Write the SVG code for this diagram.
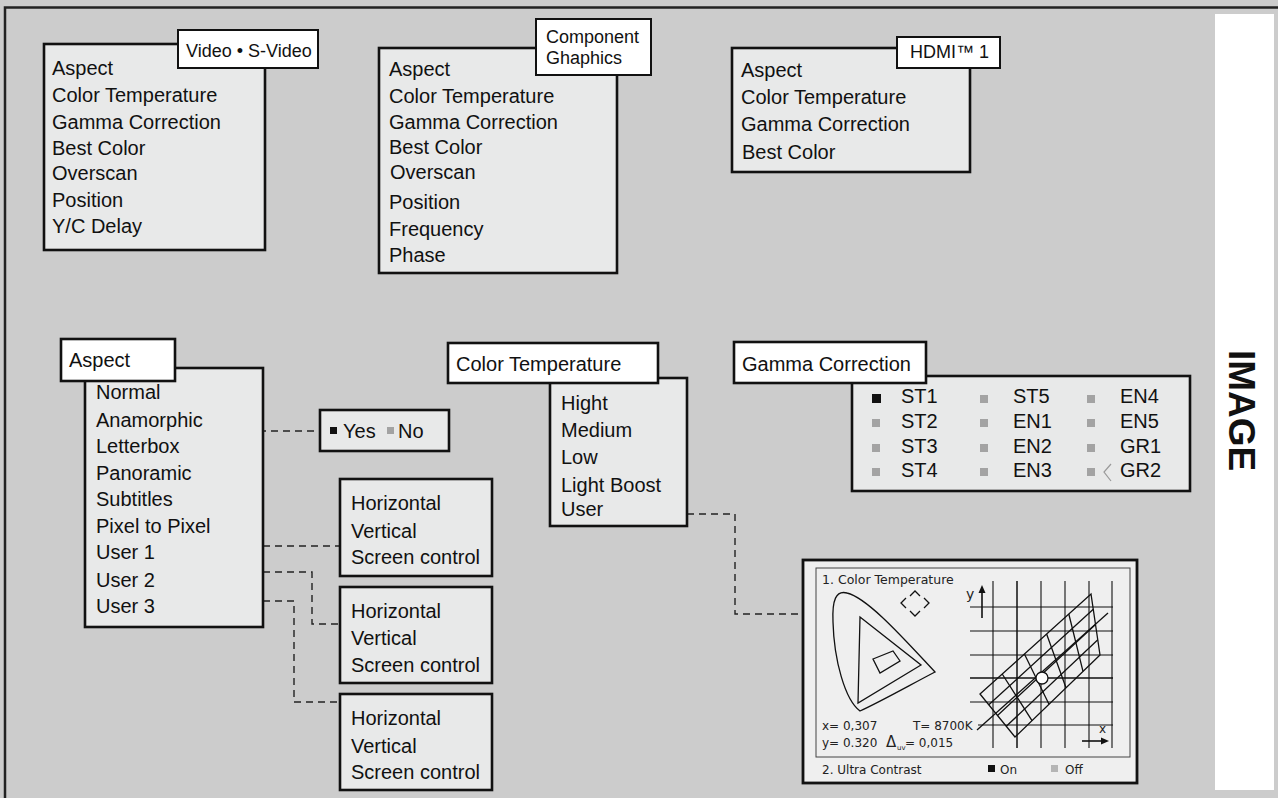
<svg xmlns="http://www.w3.org/2000/svg" width="1278" height="798" viewBox="0 0 1278 798">
<style>
text{font-family:"Liberation Sans",Arial,Helvetica,sans-serif;fill:#111}
.m{font-size:20px}
.t{font-size:18px}
.box{fill:#e8e9e9;stroke:#111;stroke-width:2.6}
.ttl{fill:#fff;stroke:#111;stroke-width:2}
.dash{fill:none;stroke:#222;stroke-width:1.4;stroke-dasharray:7,5}
.gsq{fill:#a3a3a3}
.ch{font-family:"DejaVu Sans","Liberation Sans",sans-serif;font-size:12px;fill:#222}
.cl{fill:none;stroke:#111;stroke-width:1.3}
</style>
<rect x="0" y="0" width="1278" height="798" fill="#cccccc"/>
<path d="M5,798 V7.5 H1278" fill="none" stroke="#222" stroke-width="2.5"/>
<rect x="1215" y="14" width="59" height="776" fill="#ffffff"/>
<text x="1229" y="350" transform="rotate(90 1229 350)" style="font-size:37px;font-weight:bold">IMAGE</text>

<g id="connectors">
<path class="dash" d="M215,386 H247 V507 H215"/>
<path class="dash" d="M247,431 H320"/>
<path class="dash" d="M263,546 H340"/>
<path class="dash" d="M263,572 H312 V624 H340"/>
<path class="dash" d="M263,601 H294 V702 H340"/>
<path class="dash" d="M687,514 H735 V614 H803"/>
</g>

<g id="video">
<rect class="box" x="44" y="44" width="221" height="206"/>
<text class="m" x="52" y="75">Aspect</text>
<text class="m" x="52" y="102">Color Temperature</text>
<text class="m" x="52" y="129">Gamma Correction</text>
<text class="m" x="52" y="155">Best Color</text>
<text class="m" x="52" y="180">Overscan</text>
<text class="m" x="52" y="207">Position</text>
<text class="m" x="52" y="233">Y/C  Delay</text>
<rect class="ttl" x="178" y="30" width="140" height="38"/>
<text class="t" x="186" y="57">Video • S-Video</text>
</g>

<g id="component">
<rect class="box" x="379" y="48" width="238" height="225"/>
<text class="m" x="389" y="76">Aspect</text>
<text class="m" x="389" y="103">Color Temperature</text>
<text class="m" x="389" y="129">Gamma Correction</text>
<text class="m" x="389" y="154">Best Color</text>
<text class="m" x="390" y="179">Overscan</text>
<text class="m" x="389" y="209">Position</text>
<text class="m" x="389" y="236">Frequency</text>
<text class="m" x="389" y="262">Phase</text>
<rect class="ttl" x="536" y="19" width="115" height="56"/>
<text class="t" x="546" y="43">Component</text>
<text class="t" x="546" y="64">Ghaphics</text>
</g>

<g id="hdmi">
<rect class="box" x="732" y="48" width="238" height="124"/>
<text class="m" x="741" y="77">Aspect</text>
<text class="m" x="741" y="104">Color Temperature</text>
<text class="m" x="741" y="131">Gamma Correction</text>
<text class="m" x="742" y="159">Best Color</text>
<rect class="ttl" x="897" y="37" width="103" height="31"/>
<text class="t" x="910" y="58">HDMI™ 1</text>
</g>

<g id="aspect">
<rect class="box" x="85" y="368" width="178" height="259"/>
<text class="m" x="96" y="399">Normal</text>
<text class="m" x="96" y="427">Anamorphic</text>
<text class="m" x="96" y="453">Letterbox</text>
<text class="m" x="96" y="480">Panoramic</text>
<text class="m" x="96" y="506">Subtitles</text>
<text class="m" x="96" y="533">Pixel to Pixel</text>
<text class="m" x="96" y="559">User 1</text>
<text class="m" x="96" y="587">User 2</text>
<text class="m" x="96" y="613">User 3</text>
<rect class="ttl" x="61" y="339" width="114" height="42" style="stroke-width:2.6"/>
<text class="m" x="69" y="367">Aspect</text>
</g>

<g id="yesno">
<rect class="box" x="320" y="410" width="129" height="41"/>
<rect x="330" y="427" width="7" height="7" fill="#111"/>
<text class="m" x="343" y="438">Yes</text>
<rect class="gsq" x="387" y="427" width="7" height="7"/>
<text class="m" x="398" y="438">No</text>
</g>

<g id="user1">
<rect class="box" x="340" y="479" width="152" height="97"/>
<text class="m" x="351" y="510">Horizontal</text>
<text class="m" x="351" y="538">Vertical</text>
<text class="m" x="351" y="564">Screen control</text>
</g>
<g id="user2">
<rect class="box" x="340" y="587" width="152" height="96"/>
<text class="m" x="351" y="618">Horizontal</text>
<text class="m" x="351" y="645">Vertical</text>
<text class="m" x="351" y="672">Screen control</text>
</g>
<g id="user3">
<rect class="box" x="340" y="694" width="152" height="96"/>
<text class="m" x="351" y="725">Horizontal</text>
<text class="m" x="351" y="753">Vertical</text>
<text class="m" x="351" y="779">Screen control</text>
</g>

<g id="colortemp">
<rect class="box" x="550" y="378" width="137" height="148"/>
<text class="m" x="561" y="410">Hight</text>
<text class="m" x="561" y="437">Medium</text>
<text class="m" x="561" y="464">Low</text>
<text class="m" x="561" y="492">Light Boost</text>
<text class="m" x="561" y="516">User</text>
<rect class="ttl" x="448" y="343" width="210" height="40" style="stroke-width:2.6"/>
<text class="m" x="456" y="371">Color Temperature</text>
</g>

<g id="gamma">
<rect class="box" x="852" y="376" width="338" height="115"/>
<rect x="872" y="394" width="9" height="9" fill="#111"/>
<rect class="gsq" x="872" y="419" width="8" height="8"/>
<rect class="gsq" x="872" y="444" width="8" height="8"/>
<rect class="gsq" x="872" y="468" width="8" height="8"/>
<rect class="gsq" x="980" y="395" width="8" height="8"/>
<rect class="gsq" x="980" y="419" width="8" height="8"/>
<rect class="gsq" x="980" y="444" width="8" height="8"/>
<rect class="gsq" x="980" y="468" width="8" height="8"/>
<rect class="gsq" x="1087" y="395" width="8" height="8"/>
<rect class="gsq" x="1087" y="419" width="8" height="8"/>
<rect class="gsq" x="1087" y="444" width="8" height="8"/>
<rect class="gsq" x="1087" y="468" width="8" height="8"/>
<polyline points="1111,464 1104,472 1111,481" fill="none" stroke="#999" stroke-width="1.2"/>
<text class="m" x="901" y="403">ST1</text>
<text class="m" x="901" y="428">ST2</text>
<text class="m" x="901" y="453">ST3</text>
<text class="m" x="901" y="477">ST4</text>
<text class="m" x="1013" y="403">ST5</text>
<text class="m" x="1013" y="428">EN1</text>
<text class="m" x="1013" y="453">EN2</text>
<text class="m" x="1013" y="477">EN3</text>
<text class="m" x="1120" y="403">EN4</text>
<text class="m" x="1120" y="428">EN5</text>
<text class="m" x="1120" y="453">GR1</text>
<text class="m" x="1120" y="477">GR2</text>
<rect class="ttl" x="734" y="342" width="192" height="41" style="stroke-width:2.6"/>
<text class="m" x="742" y="371">Gamma Correction</text>
</g>

<g id="chart">
<rect x="803" y="560" width="334" height="223" fill="#efefef" stroke="#111" stroke-width="2.8"/>
<rect x="816" y="568" width="314" height="189" fill="none" stroke="#444" stroke-width="1"/>
<text class="ch" x="822" y="584" style="font-size:12.5px">1. Color Temperature</text>
<path class="cl" d="M935,672 C905,640 868,598 847,593 C836,590 832,600 833,622 C834,660 845,700 860,711 C880,702 910,685 935,672 Z"/>
<path class="cl" d="M860,617 L921,665 L858,703 Z"/>
<path class="cl" d="M873,659 L893,651 L900,661 L880,673 Z" stroke-width="1"/>
<path class="cl" d="M910,596 L915,591 L920,596 M910,611 L915,616 L920,611 M906,598 L901,603 L906,608 M924,598 L929,603 L924,608" stroke-width="1.1"/>
<text class="ch" x="822" y="730">x= 0,307</text>
<text class="ch" x="913" y="730">T= 8700K</text>
<text class="ch" x="822" y="747">y= 0.320</text>
<text class="ch" x="886" y="747" style="font-size:15px">Δ</text>
<text class="ch" x="897" y="750" style="font-size:7px">uv</text>
<text class="ch" x="905" y="747">= 0,015</text>
<g stroke="#111" stroke-width="1.1">
<line x1="993" y1="581" x2="993" y2="748"/>
<line x1="1017" y1="581" x2="1017" y2="748" stroke-width="1.5"/>
<line x1="1041" y1="581" x2="1041" y2="748"/>
<line x1="1065" y1="581" x2="1065" y2="748"/>
<line x1="1089" y1="581" x2="1089" y2="748"/>
<line x1="1112" y1="581" x2="1112" y2="748"/>
<line x1="970" y1="607" x2="1113" y2="607"/>
<line x1="970" y1="631" x2="1113" y2="631"/>
<line x1="970" y1="655" x2="1113" y2="655"/>
<line x1="970" y1="678" x2="1113" y2="678" stroke-width="1.5"/>
<line x1="970" y1="702" x2="1113" y2="702"/>
<line x1="978" y1="725" x2="1113" y2="725"/>
</g>
<g class="cl" stroke-width="1.4">
<path d="M980,694 L1091,594 L1100,655 L1015,737 Z"/>
<path d="M988.8,704.8 L1093.3,609.3 M997.5,715.5 L1095.5,624.5 M1006.3,726.3 L1097.8,639.8"/>
<path d="M1002.2,674 L1032,720.6 M1024.4,654 L1049,704.2 M1046.6,634 L1066,687.8 M1068.8,614 L1083,671.4"/>
<path d="M977,730 L1108,613"/>
</g>
<circle cx="1042" cy="678" r="6" fill="#fff" stroke="#111" stroke-width="1.3"/>
<path d="M982,618 V592" stroke="#111" stroke-width="1.6"/>
<path d="M978.5,593 L982,585 L985.5,593 Z" fill="#111"/>
<text class="ch" x="966" y="599" style="font-size:14px">y</text>
<path d="M1082,741 H1102" stroke="#111" stroke-width="1.6"/>
<path d="M1101,737.5 L1109,741 L1101,744.5 Z" fill="#111"/>
<text class="ch" x="1099" y="733">x</text>
<text class="ch" x="822" y="774">2. Ultra Contrast</text>
<rect x="988" y="765" width="7" height="7" fill="#111"/>
<text class="ch" x="1000" y="774">On</text>
<rect class="gsq" x="1051" y="765" width="7" height="7" style="fill:#b5b5b5"/>
<text class="ch" x="1065" y="774">Off</text>
</g>
</svg>
